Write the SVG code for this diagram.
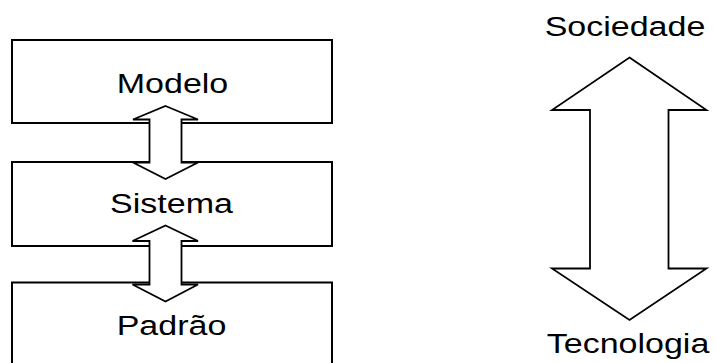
<svg xmlns="http://www.w3.org/2000/svg" width="716" height="363" viewBox="0 0 716 363">
  <style>
    .box { fill: #ffffff; stroke: #000000; stroke-width: 2; }
    .arrow { fill: #ffffff; stroke: #000000; stroke-width: 1.8; stroke-linejoin: miter; }
    .label { font-family: "Liberation Sans", Arial, sans-serif; font-size: 28px; fill: #000000; text-anchor: middle; }
  </style>
  <rect width="716" height="363" fill="#ffffff"/>

  <!-- stacked boxes -->
  <g id="modelo">
    <rect class="box" x="12" y="40" width="320" height="83"/>
    <text class="label" transform="translate(172.5 93) scale(1.215 1)">Modelo</text>
  </g>
  <g id="sistema">
    <rect class="box" x="12" y="162" width="320" height="84"/>
    <text class="label" transform="translate(171.5 212.5) scale(1.215 1)">Sistema</text>
  </g>
  <g id="padrao">
    <rect class="box" x="12" y="282.5" width="320" height="100"/>
    <text class="label" transform="translate(171.5 335) scale(1.215 1)">Padrão</text>
  </g>

  <!-- side labels -->
  <g id="sociedade">
    <text class="label" transform="translate(625 36) scale(1.215 1)">Sociedade</text>
  </g>
  <g id="tecnologia">
    <text class="label" transform="translate(628 353) scale(1.215 1)">Tecnologia</text>
  </g>

  <!-- double-headed block arrows -->
  <g id="connectors">
    <path class="arrow" d="M165.5,106 L198,119.5 L181.5,119.5 L181.5,162.5 L198,162.5 L165.5,179 L133,162.5 L149.5,162.5 L149.5,119.5 L133,119.5 Z"/>
    <path class="arrow" d="M165.5,225.5 L198,241 L181.5,241 L181.5,284.5 L198,284.5 L165.5,301.5 L132.5,284.5 L149.5,284.5 L149.5,241 L132.5,241 Z"/>
    <path class="arrow" d="M629.5,57.5 L706.5,110 L668.5,110 L668.5,268.5 L706.5,268.5 L629.5,320 L552,268.5 L590,268.5 L590,110 L552,110 Z"/>
  </g>
</svg>
